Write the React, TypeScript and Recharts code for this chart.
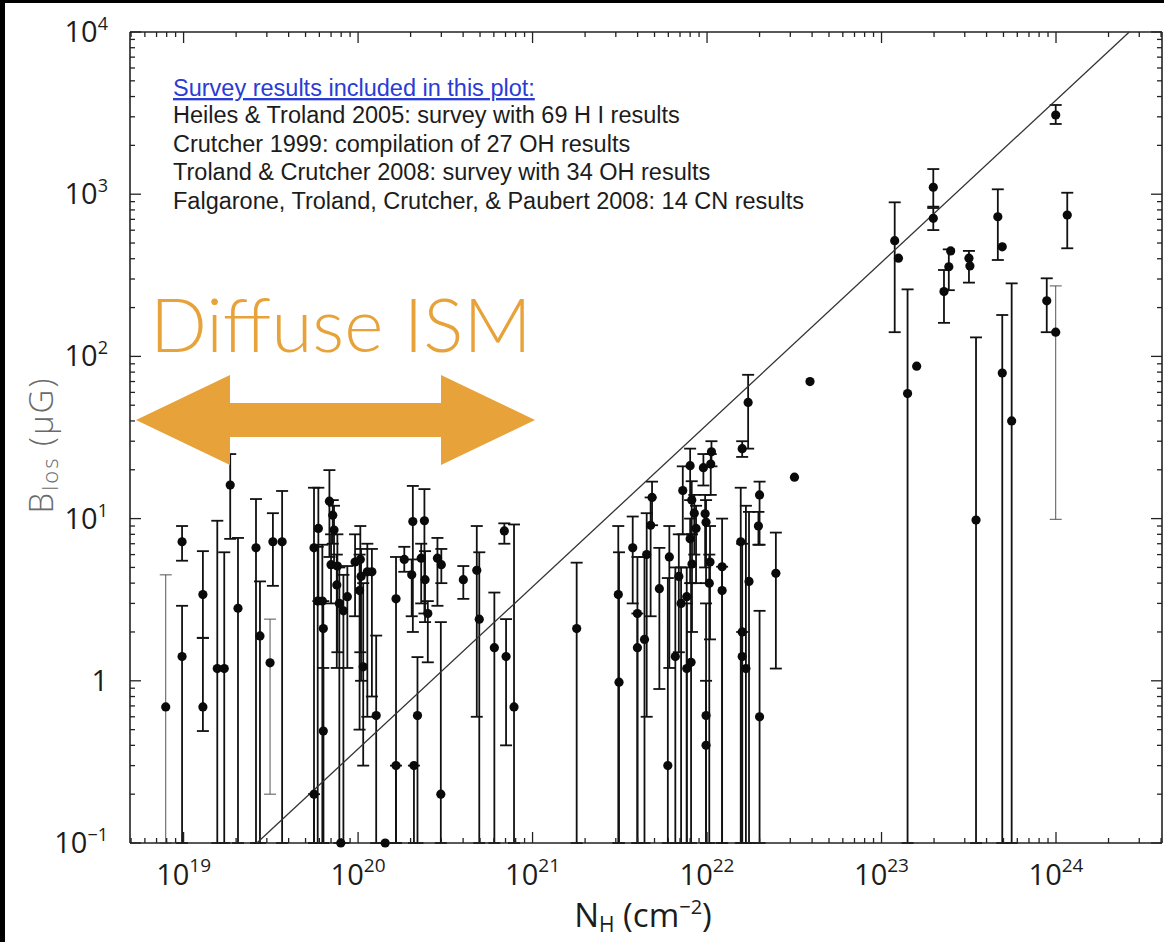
import React from "react";
import { ScatterChart, Scatter, XAxis, YAxis, ErrorBar } from "recharts";

// one row = [N_H (cm^-2), B_los (uG), lower end of bar, upper end of bar]
// a lower end of 0.1 means the bar runs off the bottom of the plot
type Row = [number, number, number, number];

const diffuseRows: Row[] = [
  [9.8e18, 7.2, 5.5, 9.0],
  [9.8e18, 1.41, 0.1, 2.9],
  [1.29e19, 3.4, 1.84, 6.3],
  [1.29e19, 0.69, 0.49, 1.84],
  [1.56e19, 1.19, 0.1, 9.7],
  [1.71e19, 1.19, 0.1, 6.2],
  [1.85e19, 16.1, 7.5, 25],
  [2.05e19, 2.8, 0.1, 7.6],
  [2.6e19, 6.6, 0.1, 13.2],
  [2.74e19, 1.89, 0.1, 4.1],
  [3.25e19, 7.2, 3.85, 10.8],
  [3.67e19, 7.2, 0.1, 14.8],
  [5.59e19, 6.6, 0.1, 15.5],
  [5.59e19, 0.2, 0.1, 0.2],
  [5.87e19, 3.1, 0.1, 6.7],
  [5.92e19, 8.7, 3.1, 15.5],
  [6.24e19, 3.1, 0.1, 6.9],
  [6.32e19, 2.1, 0.1, 3.1],
  [6.32e19, 0.49, 0.1, 1.2],
  [6.85e19, 12.8, 5.8, 19.9],
  [7.0e19, 5.2, 3.0, 8.0],
  [7.16e19, 10.5, 7.0, 13.0],
  [7.28e19, 8.5, 5.0, 12.0],
  [7.55e19, 3.9, 1.2, 6.0],
  [7.61e19, 5.1, 1.5, 8.0],
  [7.81e19, 3.0, 0.1, 5.0],
  [7.96e19, 0.1, 0.1, 0.1],
  [8.24e19, 2.7, 0.1, 4.5],
  [8.68e19, 3.3, 1.2, 5.1],
  [9.61e19, 5.4, 2.5, 8.0],
  [1.02e20, 3.6, 0.5, 6.0],
  [1.03e20, 5.6, 1.5, 9.0],
  [1.04e20, 4.4, 1.0, 6.5],
  [1.07e20, 1.22, 0.3, 4.0],
  [1.13e20, 4.7, 0.6, 7.0],
  [1.2e20, 4.7, 0.8, 6.5],
  [1.27e20, 0.61, 0.1, 1.9],
  [1.43e20, 0.1, 0.1, 0.1],
  [1.65e20, 3.2, 0.1, 5.8],
  [1.65e20, 0.3, 0.1, 0.3],
  [1.84e20, 5.6, 4.7, 6.7],
  [2.03e20, 4.5, 2.5, 5.6],
  [2.06e20, 9.6, 2.0, 15.9],
  [2.09e20, 0.3, 0.1, 0.3],
  [2.19e20, 0.61, 0.1, 1.4],
  [2.3e20, 5.7, 3.0, 7.0],
  [2.4e20, 9.7, 2.6, 15.2],
  [2.42e20, 4.2, 2.3, 6.3],
  [2.51e20, 2.6, 1.3, 3.1],
  [2.85e20, 5.7, 2.9, 7.6],
  [3.0e20, 5.2, 4.0, 6.5],
  [2.98e20, 0.2, 0.1, 2.3],
  [4.01e20, 4.2, 3.2, 5.1],
  [4.79e20, 4.8, 0.6, 9.0],
  [4.95e20, 2.4, 0.1, 6.2],
  [6.04e20, 1.6, 0.1, 3.5],
  [6.89e20, 8.4, 7.0, 9.35],
  [7.05e20, 1.41, 0.4, 2.4],
  [7.83e20, 0.69, 0.1, 9.2],
];

const molecularRows: Row[] = [
  [1.79e21, 2.1, 0.1, 5.35],
  [3.1e21, 3.4, 0.1, 9.0],
  [3.13e21, 0.98, 0.1, 6.2],
  [3.75e21, 6.6, 3.0, 10.3],
  [3.99e21, 2.6, 0.1, 5.8],
  [3.99e21, 1.6, 0.1, 2.6],
  [4.38e21, 1.8, 0.1, 5.8],
  [4.51e21, 6.0, 0.6, 10.8],
  [4.75e21, 9.1, 2.5, 13.5],
  [4.84e21, 13.5, 9.1, 16.9],
  [5.33e21, 3.7, 0.89, 6.6],
  [5.96e21, 0.3, 0.1, 4.3],
  [6.08e21, 5.8, 1.2, 9.0],
  [6.58e21, 1.41, 0.1, 5.0],
  [6.89e21, 4.4, 1.5, 8.0],
  [7.1e21, 3.0, 0.1, 5.0],
  [7.26e21, 14.9, 8.0, 21],
  [7.65e21, 3.3, 0.1, 5.0],
  [7.65e21, 1.19, 0.1, 3.0],
  [8.0e21, 21.2, 13, 27],
  [8.0e21, 7.5, 4.0, 10],
  [8.1e21, 1.3, 0.1, 4.0],
  [8.17e21, 13.0, 8.0, 17],
  [8.2e21, 5.25, 2.0, 8.0],
  [8.45e21, 10.8, 6.0, 14],
  [8.65e21, 8.7, 4.0, 12],
  [9.53e21, 20.6, 16, 25],
  [9.75e21, 10.7, 5.0, 14],
  [9.87e21, 9.5, 4.0, 13],
  [9.87e21, 0.61, 0.1, 3.0],
  [9.87e21, 0.4, 0.1, 1.0],
  [1.03e22, 4.0, 0.1, 6.0],
  [1.04e22, 5.4, 1.8, 9.0],
  [1.05e22, 21.7, 14, 25],
  [1.06e22, 25.8, 21, 30],
  [1.22e22, 5.05, 0.1, 10.0],
  [1.22e22, 3.6, 0.1, 5.05],
  [1.56e22, 7.2, 0.1, 15.5],
  [1.59e22, 27, 24, 30],
  [1.59e22, 2.0, 0.1, 7.0],
  [1.59e22, 1.41, 0.1, 2.0],
  [1.67e22, 1.19, 0.1, 12],
  [1.72e22, 52, 27, 77],
  [1.74e22, 4.1, 0.1, 11],
  [1.97e22, 9.0, 6.9, 11],
  [2.0e22, 14.0, 6.9, 16.9],
  [2.0e22, 0.6, 0.1, 2.7],
  [2.48e22, 4.6, 1.19, 8.2],
  [3.17e22, 18, 18, 18],
  [3.89e22, 70, 70, 70],
];

const denseRows: Row[] = [
  [1.19e23, 517, 141, 891],
  [1.25e23, 403, 403, 403],
  [1.41e23, 59, 0.1, 259],
  [1.59e23, 87, 87, 87],
  [1.98e23, 1104, 838, 1429],
  [1.98e23, 710, 601, 822],
  [2.28e23, 251, 161, 341],
  [2.43e23, 357, 256, 457],
  [2.49e23, 447, 447, 447],
  [3.17e23, 403, 285, 447],
  [3.21e23, 361, 361, 361],
  [3.48e23, 9.8, 0.1, 131],
  [4.64e23, 726, 393, 1072],
  [4.92e23, 474, 474, 474],
  [4.92e23, 79, 0.1, 180],
  [5.57e23, 40, 0.1, 282],
  [8.85e23, 220, 141, 303],
  [9.96e23, 3078, 2710, 3548],
  [1.16e24, 744, 464, 1021],
];

// drawn with a hairline bar in the original
const thinRows: Row[] = [
  [7.9e18, 0.69, 0.1, 4.5],
  [3.13e19, 1.29, 0.2, 2.4],
  [9.96e23, 141, 9.9, 272],
];

// B = 3.8e-21 N_H
const criticalLine = [
  { n: 2.63e19, b: 0.1 },
  { n: 2.63e24, b: 1e4 },
];

const xTicks = [1e19, 1e20, 1e21, 1e22, 1e23, 1e24];
const xTickExps = ["19", "20", "21", "22", "23", "24"];
const yTicks = [0.1, 1, 10, 100, 1000, 10000];
const yTickBases = ["10", "1", "10", "10", "10", "10"];
const yTickExps = ["\u22121", "", "1", "2", "3", "4"];

const surveyTitle = "Survey results included in this plot:";
const surveyLines = [
  "Heiles & Troland 2005: survey with 69 H I results",
  "Crutcher 1999: compilation of 27 OH results",
  "Troland & Crutcher 2008: survey with 34 OH results",
  "Falgarone, Troland, Crutcher, & Paubert 2008: 14 CN results",
];

const X_DOMAIN: [number, number] = [4.93e18, 4.05e24];
const Y_DOMAIN: [number, number] = [0.1, 1e4];

const W = 1164;
const H = 942;
const ORANGE = "#E8A23A";
const INK = "#1c1c1c";
const TICK_FONT = "'Open Sans', 'DejaVu Sans', sans-serif";
const THIN = 0.01; // axes need a non-zero size to be drawn

const minorTicks = (lo: number, hi: number) => {
  const out: number[] = [];
  for (let e = Math.floor(Math.log10(lo)); e <= Math.ceil(Math.log10(hi)); e++) {
    for (let m = 2; m <= 9; m++) {
      const v = m * Math.pow(10, e);
      if (v > lo && v < hi) out.push(v);
    }
  }
  return out;
};
const xMinor = minorTicks(X_DOMAIN[0], X_DOMAIN[1]);
const yMinor = minorTicks(Y_DOMAIN[0], Y_DOMAIN[1]);

const hasBar = (r: Row) => r[2] < r[1] || r[3] > r[1];
const toPoint = ([n, b, lo, hi]: Row) => ({ n, b, err: [b - lo, hi - b] });

const allRows = [...diffuseRows, ...molecularRows, ...denseRows];
const barPoints = allRows.filter(hasBar).map(toPoint);
const barePoints = allRows.filter((r) => !hasBar(r)).map(toPoint);
const thinPoints = thinRows.map(toPoint);

const Dot = (p: any) => <circle cx={p.cx} cy={p.cy} r={4.6} fill="#0a0a0a" />;
const NoDot = () => <g />;
const NoTick = () => <g />;

const XTickLabel = (p: any) => {
  const i = xTicks.indexOf(p.payload.value);
  return (
    <text x={p.x} y={843 + 42} textAnchor="middle" fontFamily={TICK_FONT} fontSize={29} fill={INK}>
      <tspan>10</tspan>
      <tspan dy={-13} fontSize={19}>
        {xTickExps[i]}
      </tspan>
    </text>
  );
};

const YTickLabel = (p: any) => {
  const i = yTicks.indexOf(p.payload.value);
  return (
    <text x={108} y={p.y + 10} textAnchor="end" fontFamily={TICK_FONT} fontSize={29} fill={INK}>
      <tspan>{yTickBases[i]}</tspan>
      {yTickExps[i] && (
        <tspan dy={-12} fontSize={18}>
          {yTickExps[i]}
        </tspan>
      )}
    </text>
  );
};

const frame = { stroke: "#222", strokeWidth: 1.6 };
const tickStroke = { stroke: "#222", strokeWidth: 1.3 };
const logX = { type: "number" as const, dataKey: "n", scale: "log" as const, domain: X_DOMAIN, allowDataOverflow: true, height: THIN, interval: 0 as const, tick: NoTick };
const logY = { type: "number" as const, dataKey: "b", scale: "log" as const, domain: Y_DOMAIN, allowDataOverflow: true, width: THIN, interval: 0 as const, tick: NoTick };

// the tick-only axes get a scale once a (hidden) series sits on them
const tickAxisPairs = [
  ["tMaj", "rMaj"],
  ["tMin", "rMin"],
  ["bMaj", "lMaj"],
  ["bMin", "lMin"],
];

export default function App() {
  return (
    <div style={{ position: "absolute", left: 0, top: 0, width: W, height: H, background: "#000" }}>
      <div style={{ position: "absolute", left: 5, top: 3, width: W - 5, height: H - 3, background: "#fff" }} />
      <div style={{ position: "absolute", left: 0, top: 0 }}>
        <ScatterChart width={W} height={H} margin={{ top: 32, right: 2, bottom: 99 - THIN, left: 130 - THIN }}>
          {/* labelled axes carry the data */}
          <XAxis
            xAxisId="x"
            dataKey="n"
            type="number"
            scale="log"
            domain={X_DOMAIN}
            ticks={xTicks}
            interval={0}
            height={THIN}
            tickSize={0}
            tickMargin={0}
            tickLine={false}
            axisLine={frame}
            tick={XTickLabel}
          />
          <YAxis
            yAxisId="y"
            dataKey="b"
            type="number"
            scale="log"
            domain={Y_DOMAIN}
            ticks={yTicks}
            interval={0}
            width={THIN}
            tickSize={0}
            tickMargin={0}
            tickLine={false}
            axisLine={frame}
            tick={YTickLabel}
          />
          {/* inward tick marks on all four sides */}
          <XAxis xAxisId="tMaj" {...logX} orientation="top" mirror ticks={xTicks} tickSize={11} axisLine={frame} tickLine={tickStroke} />
          <XAxis xAxisId="tMin" {...logX} orientation="top" mirror ticks={xMinor} tickSize={5} axisLine={false} tickLine={tickStroke} />
          <XAxis xAxisId="bMaj" {...logX} orientation="bottom" mirror ticks={xTicks} tickSize={11} axisLine={false} tickLine={tickStroke} />
          <XAxis xAxisId="bMin" {...logX} orientation="bottom" mirror ticks={xMinor} tickSize={5} axisLine={false} tickLine={tickStroke} />
          <YAxis yAxisId="rMaj" {...logY} orientation="right" mirror ticks={yTicks} tickSize={11} axisLine={frame} tickLine={tickStroke} />
          <YAxis yAxisId="rMin" {...logY} orientation="right" mirror ticks={yMinor} tickSize={5} axisLine={false} tickLine={tickStroke} />
          <YAxis yAxisId="lMaj" {...logY} orientation="left" mirror ticks={yTicks} tickSize={11} axisLine={false} tickLine={tickStroke} />
          <YAxis yAxisId="lMin" {...logY} orientation="left" mirror ticks={yMinor} tickSize={5} axisLine={false} tickLine={tickStroke} />

          {tickAxisPairs.map(([xa, ya]) => (
            <Scatter
              key={xa}
              xAxisId={xa}
              yAxisId={ya}
              data={criticalLine}
              dataKey="b"
              shape={NoDot}
              legendType="none"
              isAnimationActive={false}
            />
          ))}

          <Scatter
            xAxisId="x"
            yAxisId="y"
            data={criticalLine}
            dataKey="b"
            line={{ stroke: "#333", strokeWidth: 1.3 }}
            shape={NoDot}
            isAnimationActive={false}
          />
          <Scatter xAxisId="x" yAxisId="y" data={thinPoints} dataKey="b" shape={Dot} isAnimationActive={false}>
            <ErrorBar dataKey="err" direction="y" width={6} stroke="#555" strokeWidth={1} isAnimationActive={false} />
          </Scatter>
          <Scatter xAxisId="x" yAxisId="y" data={barPoints} dataKey="b" shape={Dot} isAnimationActive={false}>
            <ErrorBar dataKey="err" direction="y" width={6} stroke="#111" strokeWidth={1.8} isAnimationActive={false} />
          </Scatter>
          <Scatter xAxisId="x" yAxisId="y" data={barePoints} dataKey="b" shape={Dot} isAnimationActive={false} />
        </ScatterChart>
      </div>

      <svg width={W} height={H} style={{ position: "absolute", left: 0, top: 0, pointerEvents: "none" }}>
        <g fontFamily="'Liberation Sans', Arial, sans-serif" fontSize={23.5} fill={INK}>
          <text x={173} y={96} fill="#2a3bd6" style={{ textDecoration: "underline" }}>
            {surveyTitle}
          </text>
          {surveyLines.map((s, i) => (
            <text key={s} x={173} y={123 + i * 28.7}>
              {s}
            </text>
          ))}
        </g>

        <text x={150} y={352} fontFamily="Lato, 'Open Sans', sans-serif" fontWeight={300} fontSize={75} fill={ORANGE}>
          Diffuse ISM
        </text>
        <polygon
          points="136,420 230,375 230,403 441,403 441,375 535,420 441,465 441,437 230,437 230,465"
          fill={ORANGE}
        />

        <text
          transform="rotate(-90 44 445)"
          x={44}
          y={445}
          textAnchor="middle"
          dominantBaseline="middle"
          fontFamily={TICK_FONT}
          fontWeight={300}
          fontSize={33}
          letterSpacing={2}
          fill="#6a6a6a"
        >
          <tspan>B</tspan>
          <tspan dy={8} fontSize={22}>los</tspan>
          <tspan dy={-8}>{" (\u03bcG)"}</tspan>
        </text>

        <text x={643} y={927} textAnchor="middle" fontFamily={TICK_FONT} fontSize={33} fill={INK}>
          <tspan>N</tspan>
          <tspan dy={5} fontSize={21}>H</tspan>
          <tspan dy={-5}>{" (cm"}</tspan>
          <tspan dy={-13} fontSize={20}>{"\u22122"}</tspan>
          <tspan dy={13}>)</tspan>
        </text>
      </svg>
    </div>
  );
}
